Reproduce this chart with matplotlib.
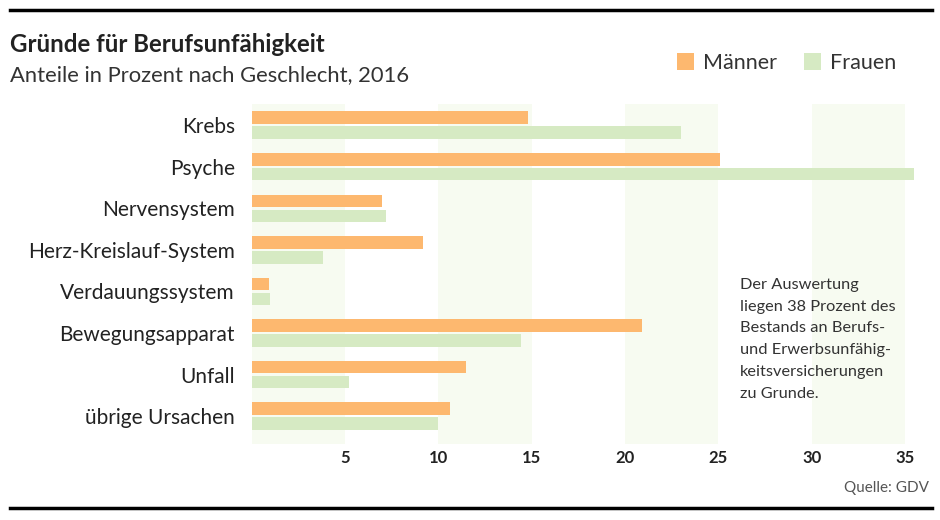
import matplotlib
matplotlib.use("Agg")
import matplotlib.pyplot as plt
import numpy as np

plt.rcParams['font.family'] = ['Lato', 'DejaVu Sans']

# Daten: Anteile in Prozent, 2016
kategorien = ['Krebs', 'Psyche', 'Nervensystem', 'Herz-Kreislauf-System',
              'Verdauungssystem', 'Bewegungsapparat', 'Unfall', 'übrige Ursachen']
maenner = [14.8, 25.1, 7.0, 9.2, 0.9, 20.9, 11.5, 10.6]
frauen = [23.0, 35.5, 7.2, 3.8, 1.0, 14.4, 5.2, 10.0]
x_ticks = [5, 10, 15, 20, 25, 30, 35]

c_m = '#fdb86f'
c_f = '#d6eac3'
c_band = '#f7fbf1'
W, H = 940, 520


def fx(px):
    return px / W


def fy(py):
    return 1 - py / H


fig = plt.figure(figsize=(9.4, 5.2), dpi=100)
fig.patch.set_facecolor('white')

ax = fig.add_axes([fx(251.7), fy(444), 36 * 18.67 / W, 340 / H])
for a, b in [(0, 5), (10, 15), (20, 25), (30, 35)]:
    ax.axvspan(a, b, color=c_band, lw=0, zorder=0)

y = np.arange(len(kategorien))
hm = ax.barh(y - 0.18, maenner, height=0.30, color=c_m, label='Männer', zorder=2)
hf = ax.barh(y + 0.18, frauen, height=0.30, color=c_f, label='Frauen', zorder=2)

ax.set_xlim(0, 36)
ax.set_ylim(7.67, -0.51)
ax.set_yticks(y)
ax.set_yticklabels(kategorien, fontsize=15, color='#222222')
ax.set_xticks(x_ticks)
ax.set_xticklabels([str(t) for t in x_ticks], fontsize=12, fontweight='bold', color='#222222')
ax.tick_params(axis='both', length=0)
ax.tick_params(axis='x', pad=4)
ax.tick_params(axis='y', pad=12)
for s in ax.spines.values():
    s.set_visible(False)

# Titel
fig.text(fx(10), fy(45), 'Gründe für Berufsunfähigkeit', fontsize=17.3, fontweight='bold',
         color='#222222', va='center', ha='left')
fig.text(fx(10), fy(75), 'Anteile in Prozent nach Geschlecht, 2016', fontsize=15.8,
         color='#333333', va='center', ha='left')

fig.legend(handles=[hm, hf], loc='center left', bbox_to_anchor=(fx(677), fy(63)),
           ncol=2, frameon=False, fontsize=15.5, handlelength=0.8, handleheight=0.8,
           handletextpad=0.4, columnspacing=1.25, labelcolor='#333333',
           borderaxespad=0, borderpad=0)

fig.text(fx(740), fy(278), 'Der Auswertung\nliegen 38 Prozent des\nBestands an Berufs-\n'
         'und Erwerbsunfähig-\nkeitsversicherungen\nzu Grunde.', fontsize=11.8,
         color='#333333', va='top', ha='left', linespacing=1.7)

fig.text(fx(929), fy(488), 'Quelle: GDV', fontsize=11, color='#555555', ha='right', va='center')

# Linien oben und unten
fig.add_artist(plt.Line2D([fx(10), fx(932)], [fy(10), fy(10)], color='black', lw=2.5))
fig.add_artist(plt.Line2D([fx(10), fx(932)], [fy(508), fy(508)], color='black', lw=2.5))

fig.savefig('out.png', dpi=100, facecolor='white')
